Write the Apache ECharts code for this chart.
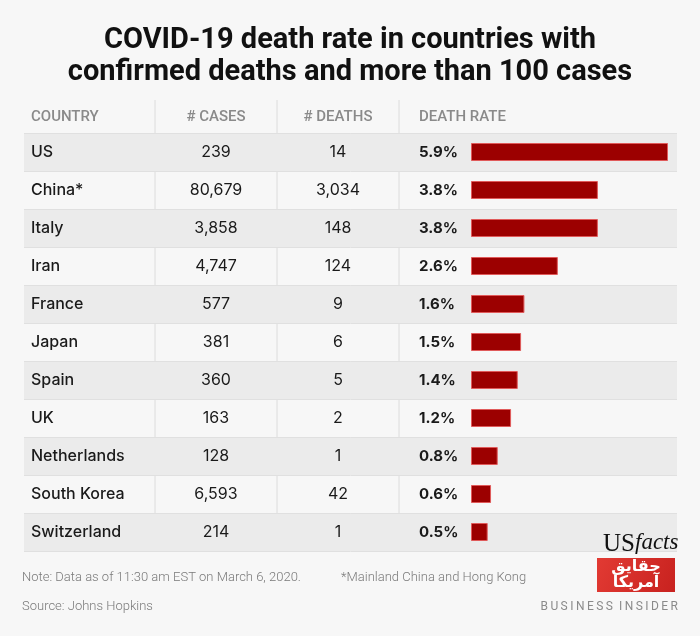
<!DOCTYPE html>
<html><head><meta charset="utf-8">
<script src="https://cdn.jsdelivr.net/npm/echarts@6/dist/echarts.min.js"></script>
<style>html,body{margin:0;padding:0;background:#f7f7f7}#c{width:700px;height:636px}</style>
</head><body><div id="c"></div>
<script>
const countries = ['US','China*','Italy','Iran','France','Japan','Spain','UK','Netherlands','South Korea','Switzerland'];
const cases = ['239','80,679','3,858','4,747','577','381','360','163','128','6,593','214'];
const deaths = ['14','3,034','148','124','9','6','5','2','1','42','1'];
const rates = [5.9,3.8,3.8,2.6,1.6,1.5,1.4,1.2,0.8,0.6,0.5];
const headers = ['COUNTRY','# CASES','# DEATHS','DEATH RATE'];
const titleText = 'COVID-19 death rate in countries with\nconfirmed deaths and more than 100 cases';
const noteText = 'Note: Data as of 11:30 am EST on March 6, 2020.';
const footText = '*Mainland China and Hong Kong';
const sourceText = 'Source: Johns Hopkins';

const chart = echarts.init(document.getElementById('c'), null, {renderer:'canvas'});
const bodyFont = 'Inter, "Noto Sans", sans-serif';
const condFont = 'Roboto, "Noto Sans", sans-serif';
const serifFont = '"Liberation Serif", "DejaVu Serif", serif';
const tableTop = 133, rowsH = 418;

function labelAxis(data, margin, align, style) {
  return {
    type:'category', gridIndex:0, data:data, inverse:true, position:'left', offset:0,
    axisLine:{show:false}, axisTick:{show:false},
    axisLabel:Object.assign({inside:true, margin:margin, align:align, color:'#1a1a1a', fontSize:16, fontFamily:bodyFont, fontWeight:500}, style||{}),
    splitLine:{show:false}, splitArea:{show:false}
  };
}
function txt(x, y, text, st) {
  return {type:'text', x:x, y:y, z:100, silent:true, style:Object.assign({text:text, textVerticalAlign:'middle'}, st)};
}

const sepX = [155,277,399];
const graphics = [];
sepX.forEach(x => graphics.push({type:'line', shape:{x1:x,y1:100,x2:x,y2:551}, style:{stroke:'#dcdcdc', lineWidth:1}, silent:true}));
const headerPos = [[31,'left'],[216,'center'],[338,'center'],[419,'left']];
headers.forEach((h,i) => graphics.push(txt(headerPos[i][0], 117, h, {fill:'#8a8a8a', fontFamily:condFont, fontWeight:500, fontSize:15, textAlign:headerPos[i][1]})));
const footStyle = {fill:'#7a7a7a', fontFamily:condFont, fontWeight:300, fontSize:13};
graphics.push(txt(22, 578, noteText, footStyle));
graphics.push(txt(341, 578, footText, footStyle));
graphics.push(txt(22, 607, sourceText, footStyle));
graphics.push(txt(678, 607, 'B\u2009U\u2009S\u2009I\u2009N\u2009E\u2009S\u2009S\u2002I\u2009N\u2009S\u2009I\u2009D\u2009E\u2009R', {fill:'#8a8a8a', fontFamily:condFont, fontSize:12, textAlign:'right'}));
// USfacts logo
graphics.push(txt(603, 544, 'US', {fill:'#111', fontFamily:serifFont, fontSize:25, textAlign:'left'}));
graphics.push(txt(635, 543, 'facts', {fill:'#111', fontFamily:serifFont, fontStyle:'italic', fontSize:23, textAlign:'left'}));
graphics.push({type:'rect', z:100, silent:true, shape:{x:597,y:558,width:78,height:34}, style:{fill:{type:'linear',x:0,y:0,x2:1,y2:1,colorStops:[{offset:0,color:'#e23a33'},{offset:1,color:'#c8221f'}]}}});
graphics.push(txt(636, 567, 'حقايق', {fill:'#fff', fontFamily:'"DejaVu Sans", sans-serif', fontWeight:'bold', fontSize:16, textAlign:'center'}));
graphics.push(txt(636, 583, 'آمريكا', {fill:'#fff', fontFamily:'"DejaVu Sans", sans-serif', fontWeight:'bold', fontSize:16, textAlign:'center'}));

const option = {
  backgroundColor:'#f7f7f7',
  animation:false,
  title:{text:titleText, left:'center', top:20, textStyle:{fontFamily:condFont, fontSize:29, fontWeight:'bold', color:'#111', lineHeight:32}},
  grid:[
    {left:24, right:23, top:tableTop, height:rowsH},
    {left:471, width:197, top:tableTop, height:rowsH}
  ],
  xAxis:[
    {type:'value', gridIndex:0, show:false, min:0, max:1},
    {type:'value', gridIndex:1, show:false, min:0, max:Math.max(...rates)}
  ],
  yAxis:[
    {type:'category', gridIndex:0, data:countries, inverse:true, position:'left',
      axisLine:{show:false}, axisTick:{show:false},
      axisLabel:{inside:true, margin:7, align:'left', color:'#1a1a1a', fontSize:16, fontFamily:bodyFont, fontWeight:500},
      splitLine:{show:true, lineStyle:{color:'#e0e0e0', width:1}},
      splitArea:{show:true, areaStyle:{color:['#ebebeb','rgba(0,0,0,0)']}}},
    labelAxis(cases, 192, 'center', {fontWeight:400}),
    labelAxis(deaths, 314, 'center', {fontWeight:400}),
    labelAxis(rates.map(r => r.toFixed(1)+'%'), 395, 'left', {fontWeight:700, fontSize:15}),
    {type:'category', gridIndex:1, data:countries, inverse:true, show:false}
  ],
  graphic:graphics,
  series:[
    {type:'bar', xAxisIndex:1, yAxisIndex:4, data:rates, barWidth:18,
      itemStyle:{color:'#9c0000', borderColor:'#e05a5a', borderWidth:1}}
  ]
};
chart.setOption(option);
</script></body></html>
